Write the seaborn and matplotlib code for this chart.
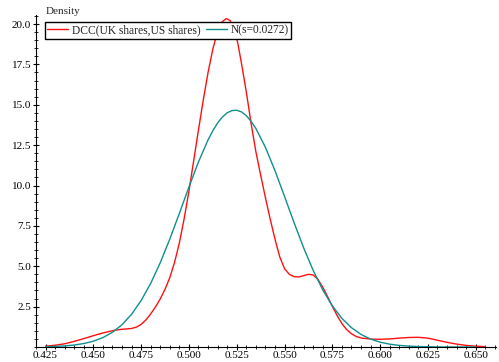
import numpy as np
import pandas as pd
import matplotlib
matplotlib.use("Agg")
import matplotlib.pyplot as plt
import seaborn as sns
from matplotlib.ticker import MultipleLocator, FixedLocator, FormatStrFormatter

# ---- data ----
dcc_x = [0.425, 0.430, 0.435, 0.440, 0.445, 0.450, 0.455, 0.460, 0.4625, 0.465,
         0.4675, 0.470, 0.4725, 0.475, 0.4775, 0.480, 0.4825, 0.485, 0.4875, 0.490,
         0.4925, 0.495, 0.4975, 0.500, 0.5025, 0.505, 0.5075, 0.510, 0.5125, 0.515,
         0.5175, 0.5195, 0.5215, 0.5235, 0.5255, 0.5275, 0.530, 0.5325, 0.535, 0.5375,
         0.540, 0.5425, 0.545, 0.5475, 0.550, 0.5525, 0.555, 0.5575, 0.560, 0.5625,
         0.565, 0.5675, 0.570, 0.5725, 0.575, 0.5775, 0.580, 0.5825, 0.585, 0.5875,
         0.590, 0.595, 0.600, 0.605, 0.610, 0.615, 0.620, 0.625, 0.630, 0.635,
         0.640, 0.645, 0.650, 0.655]
dcc_y = [0.05, 0.11, 0.20, 0.35, 0.52, 0.70, 0.87, 1.01, 1.06, 1.10,
         1.12, 1.15, 1.23, 1.40, 1.68, 2.05, 2.48, 2.98, 3.58, 4.30,
         5.25, 6.45, 7.95, 9.65, 11.55, 13.45, 15.30, 17.00, 18.45, 19.55,
         20.15, 20.34, 20.22, 19.75, 18.85, 17.55, 15.80, 13.85, 12.10, 10.65,
         9.25, 7.92, 6.68, 5.58, 4.85, 4.50, 4.36, 4.34, 4.42, 4.50,
         4.46, 4.18, 3.70, 3.12, 2.52, 1.95, 1.45, 1.08, 0.82, 0.65,
         0.56, 0.49, 0.48, 0.50, 0.55, 0.59, 0.60, 0.55, 0.42, 0.29,
         0.18, 0.10, 0.05, 0.02]

norm_x = [0.425, 0.430, 0.435, 0.440, 0.445, 0.450, 0.455, 0.460, 0.465, 0.470,
          0.475, 0.480, 0.485, 0.490, 0.495, 0.500, 0.505, 0.510, 0.5125, 0.515,
          0.5175, 0.520, 0.5225, 0.525, 0.5275, 0.530, 0.5325, 0.535, 0.540, 0.545,
          0.550, 0.555, 0.560, 0.565, 0.570, 0.575, 0.580, 0.585, 0.590, 0.595,
          0.600, 0.605, 0.610, 0.615, 0.620, 0.625, 0.630, 0.635, 0.640, 0.645, 0.650]
norm_y = [0.019, 0.037, 0.069, 0.123, 0.214, 0.359, 0.582, 0.913, 1.383, 2.029,
          2.877, 3.942, 5.221, 6.685, 8.277, 9.907, 11.465, 12.826, 13.39, 13.872,
          14.24, 14.504, 14.64, 14.662, 14.56, 14.328, 13.98, 13.537, 12.366, 10.921,
          9.323, 7.694, 6.139, 4.737, 3.533, 2.547, 1.775, 1.196, 0.779, 0.491,
          0.299, 0.176, 0.100, 0.055, 0.029, 0.015, 0.007, 0.003, 0.002, 0.001, 0.0]

dcc_label = "DCC(UK shares,US shares)"
norm_label = "N(s=0.0272)"
x_ticks = [0.425, 0.450, 0.475, 0.500, 0.525, 0.550, 0.575, 0.600, 0.625, 0.650]
y_ticks = [2.5, 5.0, 7.5, 10.0, 12.5, 15.0, 17.5, 20.0]

# ---- plotting ----
sns.set_style("ticks")
plt.rcParams['font.family'] = ['Liberation Serif', 'DejaVu Serif']
plt.rcParams['font.size'] = 8

fig = plt.figure(figsize=(4.99, 3.62), dpi=100)
ax = fig.add_axes([0.0721, 0.0414, 0.9219, 0.9172])

df_dcc = pd.DataFrame({"x": dcc_x, "y": dcc_y})
df_norm = pd.DataFrame({"x": norm_x, "y": norm_y})
sns.lineplot(data=df_dcc, x="x", y="y", ax=ax, color="#ff1010", lw=1.0,
             label=dcc_label, sort=False, estimator=None)
sns.lineplot(data=df_norm, x="x", y="y", ax=ax, color="#0f8f8f", lw=1.0,
             label=norm_label, sort=False, estimator=None)

ax.set_xlim(0.4200, 0.6606)
ax.set_ylim(0, 20.56)
ax.set_xlabel("")
ax.set_ylabel("")

ax.xaxis.set_major_locator(FixedLocator(x_ticks))
ax.xaxis.set_minor_locator(MultipleLocator(0.005))
ax.xaxis.set_major_formatter(FormatStrFormatter("%.3f"))
ax.yaxis.set_major_locator(FixedLocator(y_ticks))
ax.yaxis.set_minor_locator(MultipleLocator(0.5))
ax.yaxis.set_major_formatter(FormatStrFormatter("%.1f"))

ax.tick_params(axis="both", which="major", direction="inout", length=5, width=0.8,
               labelsize=8, colors="black")
ax.tick_params(axis="x", which="major", pad=0.5)
ax.tick_params(axis="y", which="major", pad=1)
ax.tick_params(axis="both", which="minor", direction="inout", length=3, width=0.6,
               colors="black")

for s in ["top", "right"]:
    ax.spines[s].set_visible(False)
for s in ["left", "bottom"]:
    ax.spines[s].set_color("black")
    ax.spines[s].set_linewidth(0.8)

leg = ax.legend(loc="upper left", bbox_to_anchor=(0.0196, 0.979), ncol=2,
                fontsize=8.3, frameon=True, fancybox=False, edgecolor="black",
                framealpha=1, borderaxespad=0, handlelength=1.8,
                handletextpad=0.35, columnspacing=0.45, borderpad=0.2)
leg.get_frame().set_linewidth(1.0)

fig.text(0.092, 0.968, "Density", fontsize=8, ha="left", va="center")

fig.savefig("out.png", dpi=100, facecolor="white")
